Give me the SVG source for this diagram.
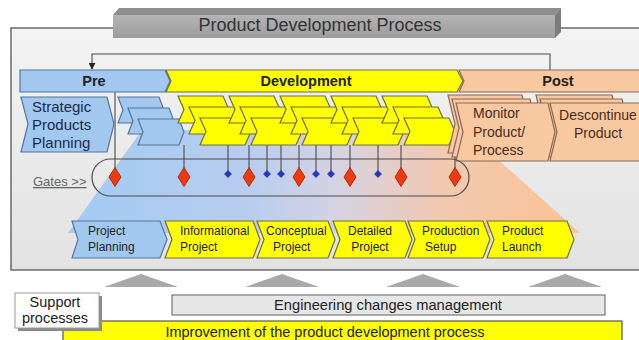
<svg xmlns="http://www.w3.org/2000/svg" width="639" height="340" viewBox="0 0 639 340">
<defs>
<linearGradient id="frameG" x1="0" y1="0" x2="0" y2="1"><stop offset="0" stop-color="#f3f3f3"/><stop offset="1" stop-color="#e2e2e2"/></linearGradient>
<linearGradient id="titleG" x1="0" y1="0" x2="0" y2="1"><stop offset="0" stop-color="#b4b4b4"/><stop offset="1" stop-color="#9c9c9c"/></linearGradient>
<linearGradient id="trapG" gradientUnits="userSpaceOnUse" x1="100" y1="0" x2="530" y2="0"><stop offset="0" stop-color="#a6cbf2"/><stop offset="0.35" stop-color="#b9cdee"/><stop offset="0.55" stop-color="#d6d2e2"/><stop offset="0.8" stop-color="#f2c9b0"/><stop offset="1" stop-color="#f7c49c"/></linearGradient>
<marker id="arr" viewBox="0 0 10 10" refX="9" refY="5" markerWidth="7" markerHeight="7" orient="auto" markerUnits="userSpaceOnUse"><path d="M0,0 L10,5 L0,10 z" fill="#222"/></marker>
<polygon id="ych" points="0,0 45,0 51,13.5 45,27 0,27 6,13.5"/>
<polygon id="bch" points="0,0 41,0 46,13 41,26 0,26 5,13"/>
<polygon id="red" points="0,-9.5 6,0 0,9.5 -6,0"/>
<polygon id="blu" points="0,-3.5 3.5,0 0,3.5 -3.5,0"/>
<polygon id="tri" points="-37,13 0,0 37,13"/>
</defs>
<style>
.t{font-family:"Liberation Sans",Arial,sans-serif}
.blue{fill:#a3c8f0;stroke:#55749c;stroke-width:1.2}
.yel{fill:#ffff00;stroke:#6e6e3a;stroke-width:1.2}
.org{fill:#f8c8a0;stroke:#8a6a55;stroke-width:1.2}
.phase{font-family:"Liberation Sans",Arial,sans-serif;font-weight:bold;font-size:14.5px;fill:#222;text-anchor:middle}
.lbl{font-family:"Liberation Sans",Arial,sans-serif;font-size:12px;fill:#222}
.big{font-family:"Liberation Sans",Arial,sans-serif;font-size:14px;fill:#4a2a1a}
.gl{stroke:#4a4a4a;stroke-width:1.1;fill:none}
.rd{fill:#ee3a0e;stroke:#992000;stroke-width:0.8}
.bd{fill:#2436c8;stroke:#1a2590;stroke-width:0.6}
</style>

<rect x="0" y="0" width="639" height="340" fill="#ffffff"/>
<g id="frame">
<rect x="11" y="28" width="640" height="242" fill="url(#frameG)" stroke="#6a6a6a" stroke-width="1.5"/>
</g>
<g id="title">
<polygon points="113,15 119,8 561,8 555,15" fill="#8e8e8e"/>
<polygon points="555,15 561,8 561,32 555,38" fill="#7c7c7c"/>
<rect x="113" y="15" width="442" height="23" fill="url(#titleG)"/>
<text class="t" x="320" y="31" font-size="18" fill="#333" text-anchor="middle">Product Development Process</text>
</g>

<polygon id="flow-band" points="142,130 465,130 580,233 68,233" fill="url(#trapG)"/>

<g id="connectors">
<path d="M550,70 V54 H92 V69" class="gl" stroke="#222" marker-end="url(#arr)"/>
<path d="M115,92 V168 M184,145 V168 M249,145 V168 M299,145 V168 M350,145 V168 M401,145 V168 M455,150 V168 M228,145 V171 M267,145 V171 M281,145 V171 M316,145 V171 M331,145 V171 M378,145 V171" class="gl"/>
</g>

<g id="phase-pre">
<polygon class="blue" points="20,70 165,70 170,81 165,92 20,92"/>
<text class="phase" x="94" y="86">Pre</text>
</g>
<g id="phase-development">
<polygon class="yel" points="166,70 457,70 463,81 457,92 166,92 171,81"/>
<text class="phase" x="306" y="86">Development</text>
</g>
<g id="phase-post">
<polygon class="org" points="459,70 645,70 645,92 459,92 464,81"/>
<text class="phase" x="558" y="86">Post</text>
</g>

<g id="strategic-products-planning">
<polygon class="blue" points="21,97 107,97 114,124 107,152 21,152 28,124"/>
<text class="t" font-size="15" fill="#1a2a4a"><tspan x="32" y="112">Strategic</tspan><tspan x="32" y="130">Products</tspan><tspan x="32" y="148">Planning</tspan></text>
</g>

<g id="pre-steps">
<use href="#bch" x="118" y="97" class="blue"/>
<use href="#bch" x="128" y="108" class="blue"/>
<use href="#bch" x="138" y="119" class="blue"/>
</g>

<g id="dev-steps-1">
<use href="#ych" x="178" y="96" class="yel"/><use href="#ych" x="189" y="107" class="yel"/><use href="#ych" x="200" y="118" class="yel"/>
</g>
<g id="dev-steps-2">
<use href="#ych" x="229" y="96" class="yel"/><use href="#ych" x="240" y="107" class="yel"/><use href="#ych" x="251" y="118" class="yel"/>
</g>
<g id="dev-steps-3">
<use href="#ych" x="280" y="96" class="yel"/><use href="#ych" x="291" y="107" class="yel"/><use href="#ych" x="302" y="118" class="yel"/>
</g>
<g id="dev-steps-4">
<use href="#ych" x="331" y="96" class="yel"/><use href="#ych" x="342" y="107" class="yel"/><use href="#ych" x="353" y="118" class="yel"/>
</g>
<g id="dev-steps-5">
<use href="#ych" x="382" y="96" class="yel"/><use href="#ych" x="393" y="107" class="yel"/><use href="#ych" x="404" y="118" class="yel"/>
</g>

<g id="descontinue-product">
<polygon class="org" points="536,95 612,95 619,124 612,153 536,153 543,124"/>
<polygon class="org" points="540,99 622,99 629,128 622,157 540,157 547,128"/>
<polygon class="org" points="550,103 645,103 645,161 550,161 557,132"/>
<text class="big" text-anchor="middle"><tspan x="598" y="120">Descontinue</tspan><tspan x="598" y="138">Product</tspan></text>
</g>
<g id="monitor-product-process">
<polygon class="org" points="448,95 522,95 529,124 522,153 448,153 455,124"/>
<polygon class="org" points="452,99 530,99 537,128 530,157 452,157 459,128"/>
<polygon class="org" points="456,103 548,103 555,132 548,161 456,161 463,132"/>
<text class="big"><tspan x="473" y="118">Monitor</tspan><tspan x="473" y="137">Product/</tspan><tspan x="473" y="155">Process</tspan></text>
</g>

<g id="gates">
<rect x="92" y="159" width="377" height="37" rx="18.5" ry="18.5" fill="none" stroke="#4a4a4a" stroke-width="1.2"/>
<text class="t" x="33" y="186" font-size="13" fill="#666" text-decoration="underline">Gates &gt;&gt;</text>
<use href="#red" x="115" y="177" class="rd"/>
<use href="#red" x="184" y="177" class="rd"/>
<use href="#red" x="249" y="177" class="rd"/>
<use href="#red" x="299" y="177" class="rd"/>
<use href="#red" x="350" y="177" class="rd"/>
<use href="#red" x="401" y="177" class="rd"/>
<use href="#red" x="455" y="177" class="rd"/>
<use href="#blu" x="228" y="174" class="bd"/>
<use href="#blu" x="267" y="174" class="bd"/>
<use href="#blu" x="281" y="174" class="bd"/>
<use href="#blu" x="316" y="174" class="bd"/>
<use href="#blu" x="331" y="174" class="bd"/>
<use href="#blu" x="378" y="174" class="bd"/>
</g>

<g id="project-planning">
<polygon class="blue" points="72,221 160,221 167,239.5 160,258 72,258 78,239.5"/>
<text class="lbl" fill="#1e2e50"><tspan x="88" y="235">Project</tspan><tspan x="88" y="251">Planning</tspan></text>
</g>
<g id="informational-project">
<polygon class="yel" points="165,221 253,221 260,239.5 253,258 165,258 172,239.5"/>
<text class="lbl"><tspan x="180" y="235">Informational</tspan><tspan x="180" y="251">Project</tspan></text>
</g>
<g id="conceptual-project">
<polygon class="yel" points="257,221 328,221 335,239.5 328,258 257,258 264,239.5"/>
<text class="lbl"><tspan x="266" y="235">Conceptual</tspan><tspan x="273" y="251">Project</tspan></text>
</g>
<g id="detailed-project">
<polygon class="yel" points="333,221 405,221 412,239.5 405,258 333,258 340,239.5"/>
<text class="lbl" text-anchor="middle"><tspan x="370" y="235">Detailed</tspan><tspan x="370" y="251">Project</tspan></text>
</g>
<g id="production-setup">
<polygon class="yel" points="408,221 483,221 490,239.5 483,258 408,258 415,239.5"/>
<text class="lbl"><tspan x="422" y="235">Production</tspan><tspan x="425" y="251">Setup</tspan></text>
</g>
<g id="product-launch">
<polygon class="yel" points="487,221 567,221 574,239.5 567,258 487,258 494,239.5"/>
<text class="lbl"><tspan x="502" y="235">Product</tspan><tspan x="502" y="251">Launch</tspan></text>
</g>

<g id="support-arrows" fill="#a9a9a9">
<use href="#tri" x="141" y="274"/>
<use href="#tri" x="282" y="274"/>
<use href="#tri" x="423" y="274"/>
<use href="#tri" x="565" y="274"/>
</g>

<g id="improvement">
<rect x="63" y="321" width="559" height="26" fill="#ffff00" stroke="#555" stroke-width="1.2"/>
<text class="t" x="325" y="337" font-size="14.5" fill="#222" text-anchor="middle">Improvement of the product development process</text>
</g>
<g id="engineering-changes">
<rect x="172" y="295" width="433" height="20" fill="#e6e6e6" stroke="#777" stroke-width="1.2"/>
<text class="t" x="388" y="310" font-size="14.7" fill="#222" text-anchor="middle">Engineering changes management</text>
</g>
<g id="support-processes">
<rect x="18" y="296" width="84" height="35" fill="#8a8a8a"/>
<rect x="15" y="293" width="84" height="35" fill="#ffffff" stroke="#999" stroke-width="1"/>
<text class="t" font-size="14.5" fill="#222" text-anchor="middle"><tspan x="55" y="307">Support</tspan><tspan x="55" y="323">processes</tspan></text>
</g>
</svg>
